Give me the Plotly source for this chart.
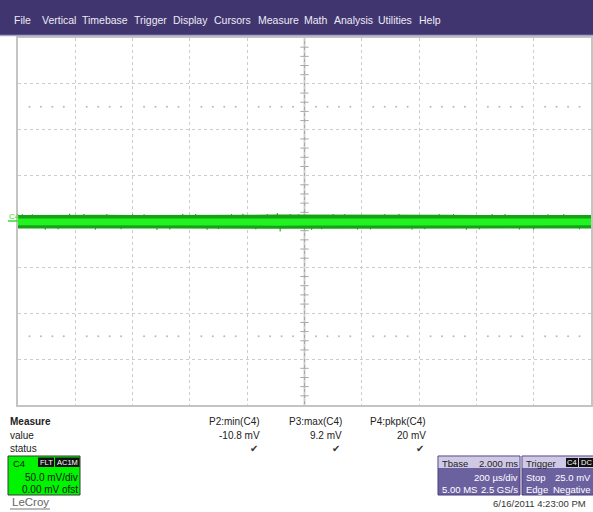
import plotly.graph_objects as go

W, H = 593, 512

# screen is 10 div x 200 us/div, 8 div x 50 mV/div
t_div = 200
v_div = 50

# noise envelope of C4, every 100 us (mV)
env_t = [-1000, -900, -800, -700, -600, -500, -400, -300, -200, -100, 0,
         100, 200, 300, 400, 500, 600, 700, 800, 900, 1000]
outer_hi = [7.0, 7.3, 7.1, 7.4, 7.2, 7.1, 7.3, 7.2, 7.4, 7.7, 7.5,
            7.3, 7.2, 7.4, 7.1, 7.3, 7.2, 7.1, 7.3, 7.2, 7.1]
outer_lo = [-7.6, -7.8, -7.6, -7.9, -7.7, -7.6, -7.8, -7.7, -7.9, -8.2, -8.0,
            -7.8, -7.7, -7.9, -7.6, -7.8, -7.7, -7.6, -7.8, -7.7, -7.6]
inner_hi = [3.2, 3.3, 3.2, 3.4, 3.2, 3.3, 3.2, 3.3, 3.4, 3.5, 3.4,
            3.3, 3.2, 3.3, 3.2, 3.3, 3.2, 3.3, 3.2, 3.3, 3.2]
inner_lo = [-4.2, -4.3, -4.2, -4.4, -4.2, -4.3, -4.2, -4.3, -4.4, -4.5, -4.4,
            -4.3, -4.2, -4.3, -4.2, -4.3, -4.2, -4.3, -4.2, -4.3, -4.2]

# visible glitches sticking out of the band (us, mV)
spike_t = [-985, -950, -905, -860, -820, -770, -730, -690, -640, -600, -560,
           -515, -470, -425, -380, -340, -300, -255, -215, -170, -130, -95,
           -85, -50, -20, 25, 60, 100, 140, 185, 230, 280, 330, 375, 420,
           470, 520, 565, 610, 655, 700, 750, 800, 850, 905, 960]
spike_v = [8.0, 7.8, -9.0, -8.6, 8.4, 8.2, -8.9, 8.0, -8.4, 7.9, 8.0,
           -9.2, -8.8, 8.3, 8.1, -9.0, -8.3, 8.0, 8.4, -8.7, 8.1, 9.2,
           -10.8, 8.2, 8.0, -9.1, -8.5, 8.1, 7.9, -8.8, -8.7, 8.0, 8.3, -8.9,
           -8.4, 8.1, 8.0, -9.0, -8.6, 8.2, 8.2, -8.8, -8.9, 8.0, 8.1, -8.5]

menu = ["File", "Vertical", "Timebase", "Trigger", "Display", "Cursors",
        "Measure", "Math", "Analysis", "Utilities", "Help"]
menu_x = [12, 40, 80, 132, 171, 212, 256, 302, 332, 376, 417]

meas_names = ["P2:min(C4)", "P3:max(C4)", "P4:pkpk(C4)"]
meas_vals = ["-10.8 mV", "9.2 mV", "20 mV"]
meas_x = [262, 344, 428]


def px(x):
    return x / W


def py(y):
    return 1 - y / H


fig = go.Figure()

# centre axis tick marks (5 per div), drawn first so the trace covers them
tick_v = [v for v in range(-200, 201, 10) if v % 50]
tick_t = [t for t in range(-1000, 1001, 40) if t % 200]
fig.add_trace(go.Scatter(x=[0] * len(tick_v), y=tick_v, mode="markers",
                         marker=dict(symbol="line-ew-open", size=6, color="#a8a8a8",
                                     line=dict(color="#a8a8a8", width=1)),
                         hoverinfo="skip", showlegend=False))
fig.add_trace(go.Scatter(x=tick_t, y=[0] * len(tick_t), mode="markers",
                         marker=dict(symbol="line-ns-open", size=6, color="#a8a8a8",
                                     line=dict(color="#a8a8a8", width=1)),
                         hoverinfo="skip", showlegend=False))
# dotted rows at +-2.5 div
dots_t = [t for t in range(-960, 1000, 40) if t % 200]
fig.add_trace(go.Scatter(x=dots_t * 2, y=[125] * len(dots_t) + [-125] * len(dots_t),
                         mode="markers", marker=dict(size=2, color="#b8b8b8"),
                         hoverinfo="skip", showlegend=False))

sx, sy = [], []
for t, v in zip(spike_t, spike_v):
    sx += [t, t, None]
    sy += [0, v, None]
fig.add_trace(go.Scatter(x=sx, y=sy, mode="lines", line=dict(color="#138f13", width=1),
                         hoverinfo="skip", showlegend=False))

# noise band: outer dark, inner bright
fig.add_trace(go.Scatter(x=env_t, y=outer_lo, mode="lines", line=dict(width=0),
                         hoverinfo="skip", showlegend=False))
fig.add_trace(go.Scatter(x=env_t, y=outer_hi, mode="lines", line=dict(width=0),
                         fill="tonexty", fillcolor="#15a315", hoverinfo="skip",
                         showlegend=False))
fig.add_trace(go.Scatter(x=env_t, y=inner_lo, mode="lines", line=dict(width=0),
                         hoverinfo="skip", showlegend=False))
fig.add_trace(go.Scatter(x=env_t, y=inner_hi, mode="lines", line=dict(width=0),
                         fill="tonexty", fillcolor="#22f222", hoverinfo="skip",
                         showlegend=False))

shapes = [
    dict(type="rect", xref="paper", yref="paper", x0=0, x1=1, y0=py(35), y1=1,
         fillcolor="#413570", line_width=0, layer="below"),
    dict(type="line", xref="paper", yref="paper", x0=0, x1=1, y0=py(35.5), y1=py(35.5),
         line=dict(color="#a9a2c8", width=1.5)),
    dict(type="line", xref="x", yref="y", x0=0, x1=0, y0=-200, y1=200,
         line=dict(color="#a8a8a8", width=1.5), layer="below"),
    dict(type="line", xref="x", yref="y", x0=-1000, x1=1000, y0=0, y1=0,
         line=dict(color="#a8a8a8", width=1.5), layer="below"),
    # C4 channel marker
    dict(type="line", xref="paper", yref="paper", x0=px(8), x1=px(18), y0=py(221), y1=py(221),
         line=dict(color="#33dd33", width=1.5)),
    # C4 descriptor box
    dict(type="rect", xref="paper", yref="paper", x0=px(8), x1=px(80), y0=py(495), y1=py(456),
         fillcolor="#00f400", line=dict(color="#3a3a3a", width=1)),
    dict(type="rect", xref="paper", yref="paper", x0=px(38), x1=px(54), y0=py(467), y1=py(457.5),
         fillcolor="#111111", line_width=0),
    dict(type="rect", xref="paper", yref="paper", x0=px(55), x1=px(79.5), y0=py(467), y1=py(457.5),
         fillcolor="#111111", line_width=0),
    # timebase box
    dict(type="rect", xref="paper", yref="paper", x0=px(438), x1=px(520), y0=py(495), y1=py(456),
         fillcolor="#6c619f", line=dict(color="#4a3f7a", width=1)),
    dict(type="rect", xref="paper", yref="paper", x0=px(438.5), x1=px(519.5), y0=py(468), y1=py(456.5),
         fillcolor="#cfc9e6", line_width=0),
    # trigger box
    dict(type="rect", xref="paper", yref="paper", x0=px(522), x1=px(600), y0=py(495), y1=py(456),
         fillcolor="#6c619f", line=dict(color="#4a3f7a", width=1)),
    dict(type="rect", xref="paper", yref="paper", x0=px(522.5), x1=px(600), y0=py(468), y1=py(456.5),
         fillcolor="#cfc9e6", line_width=0),
    dict(type="rect", xref="paper", yref="paper", x0=px(566), x1=px(578), y0=py(467), y1=py(458),
         fillcolor="#111111", line_width=0),
    dict(type="rect", xref="paper", yref="paper", x0=px(579), x1=px(593), y0=py(467), y1=py(458),
         fillcolor="#111111", line_width=0),
    # LeCroy underline
    dict(type="line", xref="paper", yref="paper", x0=px(10), x1=px(50), y0=py(509), y1=py(509),
         line=dict(color="#777777", width=1)),
]

ann = []


def txt(x, y, s, size=10, color="#222222", anchor="left", bold=False):
    ann.append(dict(x=px(x), y=py(y), xref="paper", yref="paper", text=f"<b>{s}</b>" if bold else s,
                    showarrow=False, xanchor=anchor, yanchor="middle",
                    font=dict(family="Liberation Sans, Arial", size=size, color=color)))


for m, mx in zip(menu, menu_x):
    txt(mx, 20, m, size=10.5, color="#ececf4")

txt(7, 216, "C4", size=8, color="#33dd33")

txt(8, 421, "Measure", size=10, bold=True)
txt(8, 435, "value", size=10)
txt(8, 448, "status", size=10)
for name, val, mx in zip(meas_names, meas_vals, meas_x):
    txt(mx, 421, name, size=10, anchor="right")
    txt(mx, 435, val, size=10, anchor="right")
    txt(mx - 2, 448, "✔", size=10, color="#333333", anchor="right")

txt(11, 463, "C4", size=9.5, color="#111111")
txt(46, 462.5, "FLT", size=7.5, color="#ffffff", anchor="center")
txt(67, 462.5, "AC1M", size=7.5, color="#ffffff", anchor="center")
txt(80, 477, "50.0 mV/div", size=10, color="#111111", anchor="right")
txt(80, 489, "0.00 mV ofst", size=10, color="#111111", anchor="right")
txt(10, 502, "LeCroy", size=11.5, color="#666666")

txt(440, 463, "Tbase", size=9.5, color="#222222")
txt(520, 463, "2.000 ms", size=9.5, color="#222222", anchor="right")
txt(520, 477, "200 µs/div", size=9.5, color="#ffffff", anchor="right")
txt(440, 489, "5.00 MS", size=9.5, color="#ffffff")
txt(520, 489, "2.5 GS/s", size=9.5, color="#ffffff", anchor="right")
txt(524, 463, "Trigger", size=9.5, color="#222222")
txt(572, 462.5, "C4", size=7.5, color="#ffffff", anchor="center")
txt(586, 462.5, "DC", size=7.5, color="#ffffff", anchor="center")
txt(524, 477, "Stop", size=9.5, color="#ffffff")
txt(593, 477, "25.0 mV", size=9.5, color="#ffffff", anchor="right")
txt(524, 489, "Edge", size=9.5, color="#ffffff")
txt(593, 489, "Negative", size=9.5, color="#ffffff", anchor="right")
txt(588, 503, "6/16/2011 4:23:00 PM", size=9.5, color="#333333", anchor="right")

grid = dict(showgrid=True, gridcolor="#cccccc", griddash="dot", gridwidth=1,
            zeroline=False, showticklabels=False, ticks="",
            showline=True, mirror=True, linecolor="#c4c4c4", linewidth=2)

fig.update_layout(
    width=W, height=H,
    margin=dict(l=0, r=0, t=0, b=0),
    paper_bgcolor="white", plot_bgcolor="white",
    showlegend=False,
    xaxis=dict(domain=[px(18), px(591)], range=[-5 * t_div, 5 * t_div], dtick=t_div, **grid),
    yaxis=dict(domain=[py(405), py(38)], range=[-4 * v_div, 4 * v_div], dtick=v_div, **grid),
    shapes=shapes,
    annotations=ann,
)

fig.write_html("out.html", config={"displayModeBar": False},
               post_script="document.body.style.margin='0';document.body.style.overflow='hidden';")
